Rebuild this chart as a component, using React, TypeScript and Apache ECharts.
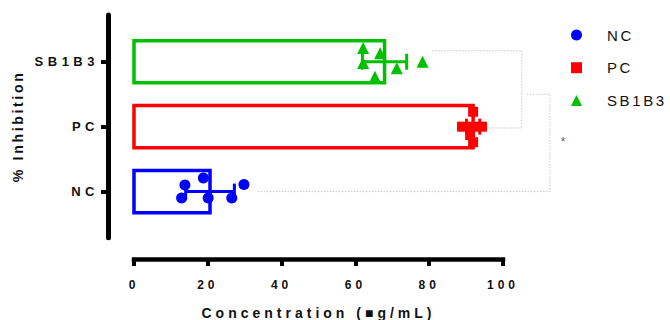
import React, { useEffect, useRef } from 'react';
import * as echarts from 'echarts';

const categories = ['NC', 'PC', 'SB1B3'];
const groupColors = ['#0000ff', '#ff0000', '#00c000'];
const groupSymbols = ['circle', 'rect', 'triangle'];

// individual replicate values (% inhibition) and their vertical scatter offsets
const ncValues = [13.8, 18.8, 12.9, 20.1, 26.5, 29.8];
const ncJitter = [0.10, 0.21, -0.10, -0.10, -0.10, 0.11];
const pcValues = [91.9, 88.9, 94.3, 91.6, 91.1, 91.9];
const pcJitter = [0.23, 0, 0, 0, -0.13, -0.24];
const sbValues = [62.1, 66.7, 62.1, 71.2, 65.3, 78.2];
const sbJitter = [0.21, 0.13, -0.02, -0.10, -0.23, 0];

// bar means and standard deviations
const barMeans = [20.6, 91.9, 67.9];
const barSD = [6.6, 1.8, 6.0];

const xTicks = [0, 20, 40, 60, 80, 100];

// significance brackets (data space of the annotation axes)
const bracketSbPc = [[80.8, 2.17], [105.1, 2.17], [105.1, 0.98], [95.7, 0.98]];
const bracketNc = [[33.6, 0], [112.7, 0], [112.7, 1.5], [106.5, 1.5]];
const starPoint = [[116.8, 0.76]];

const FONT = '"Liberation Sans", Arial, sans-serif';

const CSS = `
.chart-root text[style*="14.2px"] { letter-spacing: 2.6px; }
.chart-root text[style*="13px"] { letter-spacing: 4.5px; }
.chart-root text[style*="15px"] { letter-spacing: 2.6px; }
`;

export default function App() {
  const ref = useRef<HTMLDivElement>(null);
  useEffect(() => {
    if (!ref.current) return;
    const chart = echarts.init(ref.current, undefined, { renderer: 'svg' });
    const groups = [
      { values: ncValues, jitter: ncJitter },
      { values: pcValues, jitter: pcJitter },
      { values: sbValues, jitter: sbJitter },
    ];
    const barData = categories.map((_, i) => [i, barMeans[i], barSD[i]]);
    const yMin = -0.71;
    const yMax = 2.72;
    const option: any = {
      animation: false,
      backgroundColor: '#ffffff',
      textStyle: { fontFamily: FONT },
      grid: [
        { left: 134, right: 167, top: 15, bottom: 82.3, outerBoundsMode: 'none', containLabel: false },
        { left: 134, right: 93.2, top: 15, bottom: 82.3, outerBoundsMode: 'none', containLabel: false },
      ],
      legend: {
        orient: 'vertical',
        left: 571,
        top: 27.5,
        padding: 0,
        itemWidth: 11,
        itemHeight: 11,
        itemGap: 17.7,
        data: categories.map((c, i) => ({ name: c, icon: groupSymbols[i] })),
        textStyle: { fontFamily: FONT, fontSize: 15, lineHeight: 15, color: '#111', padding: [0, 0, 0, 20] },
      },
      xAxis: [
        {
          type: 'value',
          gridIndex: 0,
          min: 0,
          max: 100,
          interval: 20,
          offset: 21.3,
          axisLine: { show: true, onZero: false, lineStyle: { color: '#000', width: 4.5, cap: 'square' } },
          axisTick: { show: true, length: 7, lineStyle: { color: '#000', width: 4 }, customValues: xTicks },
          axisLabel: {
            customValues: xTicks,
            margin: 20,
            fontFamily: FONT,
            fontWeight: 'bold',
            fontSize: 12,
            color: '#111',
          },
          splitLine: { show: false },
          name: 'Concentration (■g/mL)',
          nameLocation: 'middle',
          nameGap: 47,
          nameTextStyle: { fontFamily: FONT, fontWeight: 'bold', fontSize: 14, color: '#111' },
        },
        { type: 'value', gridIndex: 1, min: 0, max: 120, show: false },
      ],
      yAxis: [
        {
          type: 'value',
          gridIndex: 0,
          min: yMin,
          max: yMax,
          offset: 26,
          axisLine: { show: true, onZero: false, lineStyle: { color: '#000', width: 5 } },
          axisTick: { show: true, length: 7, lineStyle: { color: '#000', width: 4 }, customValues: [0, 1, 2] },
          axisLabel: {
            customValues: [0, 1, 2],
            formatter: (v: number) => categories[Math.round(v)],
            margin: 9,
            fontFamily: FONT,
            fontWeight: 'bold',
            fontSize: 13,
            color: '#111',
          },
          splitLine: { show: false },
          name: '% Inhibition',
          nameLocation: 'middle',
          nameGap: 83,
          nameRotate: 90,
          nameTextStyle: { fontFamily: FONT, fontWeight: 'bold', fontSize: 14.2, color: '#111' },
        },
        { type: 'value', gridIndex: 1, min: yMin, max: yMax, show: false },
      ],
      series: [
        {
          type: 'custom',
          name: 'bars',
          xAxisIndex: 0,
          yAxisIndex: 0,
          data: barData,
          encode: { x: 1, y: 0 },
          silent: true,
          z: 1,
          renderItem: (params: any, api: any) => {
            const i = api.value(0);
            const m = api.value(1);
            const tl = api.coord([0, i + 0.325]);
            const br = api.coord([m, i - 0.325]);
            return {
              type: 'rect',
              shape: { x: tl[0], y: tl[1], width: br[0] - tl[0], height: br[1] - tl[1] },
              style: { fill: '#ffffff', stroke: groupColors[i], lineWidth: 3.5 },
            };
          },
        },
        ...groups.map((g, i) => ({
          type: 'scatter',
          name: categories[i],
          xAxisIndex: 0,
          yAxisIndex: 0,
          symbol: groupSymbols[i],
          symbolSize: i === 0 ? 11 : i === 1 ? 10 : 12,
          itemStyle: { color: groupColors[i], opacity: 1 },
          z: 2,
          data: g.values.map((v, k) => [v, i + g.jitter[k]]),
        })),
        {
          type: 'custom',
          name: 'errorbars',
          xAxisIndex: 0,
          yAxisIndex: 0,
          data: barData,
          encode: { x: 1, y: 0 },
          silent: true,
          z: 3,
          renderItem: (params: any, api: any) => {
            const i = api.value(0);
            const m = api.value(1);
            const s = api.value(2);
            const l = api.coord([m - s, i]);
            const r = api.coord([m + s, i]);
            const st = { stroke: groupColors[i], lineWidth: 3 };
            const cap = 8;
            return {
              type: 'group',
              children: [
                { type: 'line', shape: { x1: l[0], y1: l[1], x2: r[0], y2: r[1] }, style: st },
                { type: 'line', shape: { x1: l[0], y1: l[1] - cap, x2: l[0], y2: l[1] + cap }, style: st },
                { type: 'line', shape: { x1: r[0], y1: r[1] - cap, x2: r[0], y2: r[1] + cap }, style: st },
              ],
            };
          },
        },
        ...[bracketSbPc, bracketNc].map((b) => ({
          type: 'line',
          xAxisIndex: 1,
          yAxisIndex: 1,
          data: b,
          symbol: 'none',
          silent: true,
          z: 0,
          lineStyle: { color: '#c8c8c8', width: 1, type: [1.5, 1.5] },
        })),
        {
          type: 'scatter',
          xAxisIndex: 1,
          yAxisIndex: 1,
          data: starPoint,
          symbolSize: 1,
          silent: true,
          itemStyle: { color: 'rgba(0,0,0,0)' },
          label: {
            show: true,
            position: 'inside',
            formatter: '*',
            fontFamily: FONT,
            fontSize: 12,
            color: '#333',
          },
        },
      ],
    };
    chart.setOption(option);
    return () => chart.dispose();
  }, []);
  return (
    <>
      <style>{CSS}</style>
      <div
        ref={ref}
        className="chart-root"
        style={{ position: 'fixed', left: 0, top: 0, width: 670, height: 320, letterSpacing: '4px' }}
      />
    </>
  );
}
